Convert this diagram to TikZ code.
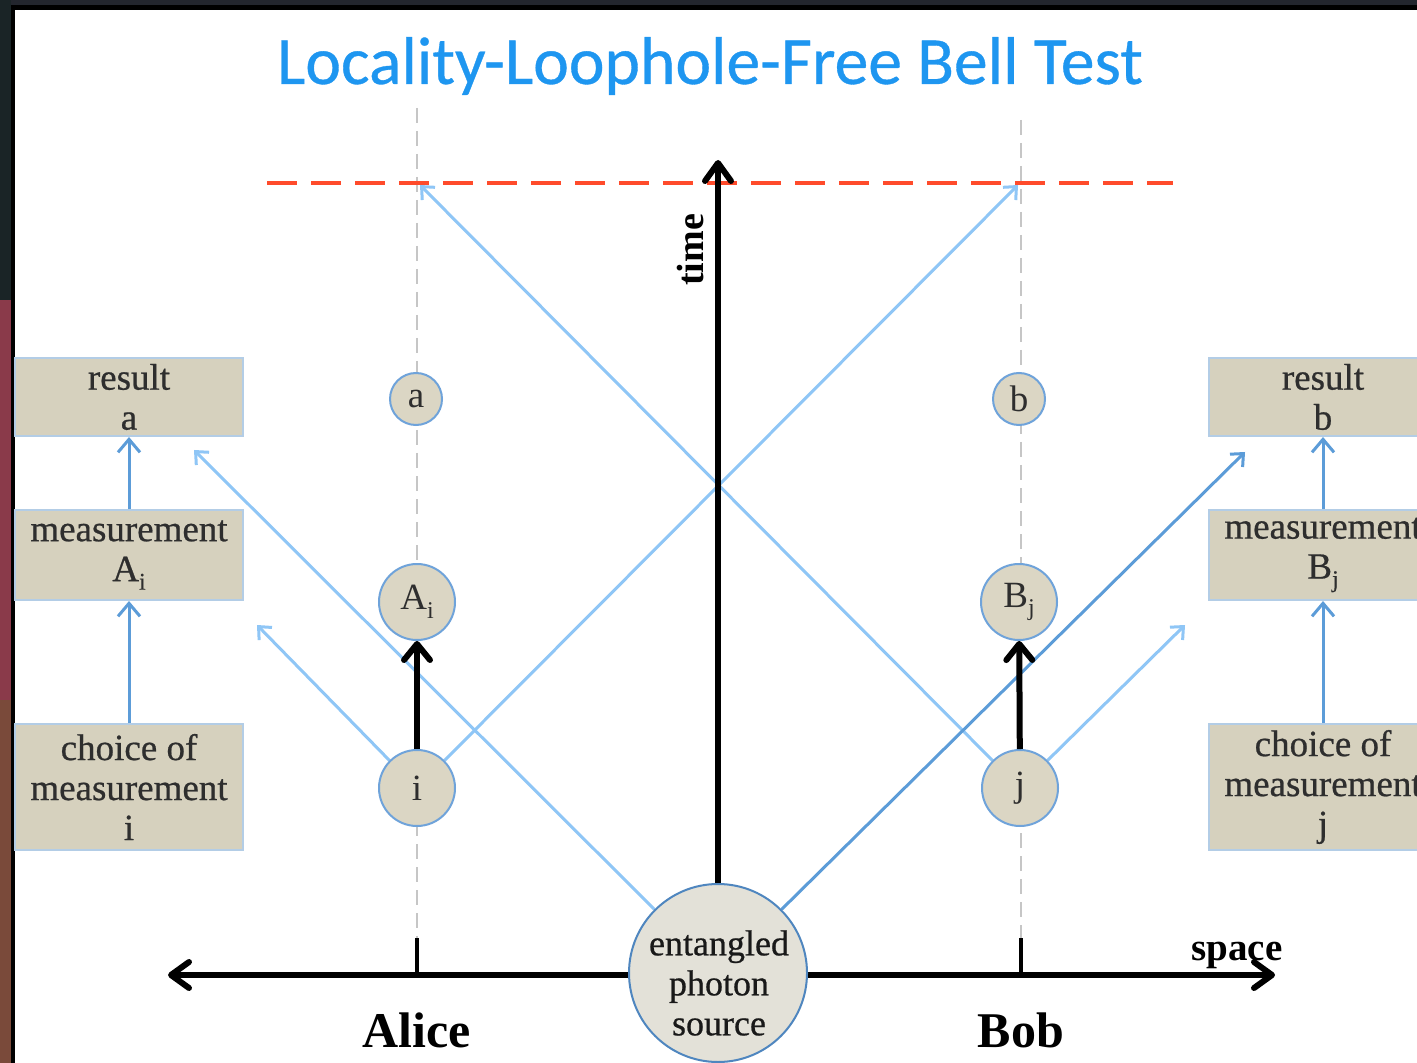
\documentclass[tikz,border=0pt]{standalone}
\usepackage{fontspec}
\setmainfont{Liberation Serif}
\newfontfamily\heavyserif{Liberation Serif}[FakeBold=0.6]
\newfontfamily\titlefont{Carlito}[FakeBold=0.5]
\usetikzlibrary{arrows.meta}
\definecolor{titleblue}{HTML}{1E96F0}
\definecolor{redline}{HTML}{FF4B2B}
\definecolor{lightline}{HTML}{8FC6F6}
\definecolor{midline}{HTML}{5C9CD8}
\definecolor{boxfill}{HTML}{D6D1BE}
\definecolor{boxborder}{HTML}{B3CDE6}
\definecolor{circfill}{HTML}{DBD6C4}
\definecolor{circborder}{HTML}{6FA3DA}
\definecolor{srcfill}{HTML}{E3E1D8}
\definecolor{srcborder}{HTML}{4F86BF}
\definecolor{graydash}{HTML}{C6C6C6}
\definecolor{boxtext}{HTML}{2E2E2E}
\definecolor{bgdark}{HTML}{23262E}
\definecolor{bgteal}{HTML}{1A2426}
\definecolor{bgred}{HTML}{8A3A4A}
\definecolor{bgbrown}{HTML}{7A4A3A}
\newcommand\lowsub[1]{\raisebox{-0.5ex}{\fontsize{12}{12}\selectfont #1}}
\pgfdeclarelayer{bglayer}
\pgfsetlayers{bglayer,main}
\tikzset{
  axtip/.tip={Straight Barb[length=9pt,width=13pt,round]},
  bltip/.tip={Straight Barb[length=8pt,width=13pt,round]},
  lntip/.tip={Straight Barb[length=5pt,width=9pt]},
  bxtip/.tip={Straight Barb[length=6.5pt,width=11pt]},
}
\begin{document}
\begin{tikzpicture}[x=0.5pt,y=-0.5pt,
  boxnode/.style={draw=boxborder, line width=1pt, fill=boxfill, minimum width=114pt,
    align=center, inner sep=0pt, text=boxtext, font=\heavyserif\fontsize{18.5}{20}\selectfont},
  circnode/.style={circle, draw=circborder, line width=1pt, fill=circfill, inner sep=0pt,
    text=boxtext, font=\fontsize{18.5}{20}\selectfont},
  srcnode/.style={circle, draw=srcborder, line width=1pt, fill=srcfill, inner sep=0pt,
    minimum size=89pt},
  srctext/.style={align=center, inner sep=0pt, text=black!90, font=\heavyserif\fontsize{18}{20}\selectfont},
  lline/.style={draw=lightline, line width=1.5pt, -lntip},
  mline/.style={draw=midline, line width=1.5pt, -lntip},
  barrow/.style={draw=midline, line width=1.5pt, -bxtip},
  blackarrow/.style={draw=black, line width=3pt, -bltip},
  axisline/.style={draw=black, line width=3pt},
  tickline/.style={draw=black, line width=2pt},
  gdash/.style={draw=graydash, line width=1.2pt, dash pattern=on 7.5pt off 4pt},
  reddash/.style={draw=redline, line width=2pt, dash pattern=on 15pt off 7pt},
]
\useasboundingbox (0,0) rectangle (1417,1063);
\clip (0,0) rectangle (1417,1063);

% coordinates
\coordinate (gA) at (417,108);
\coordinate (tA) at (417,938);
\coordinate (gB) at (1021,120);
\coordinate (tB) at (1021,938);
\coordinate (r1) at (267,183);
\coordinate (r2) at (1173,183);
\coordinate (xl) at (168,975);
\coordinate (xr) at (1275,975);
\coordinate (tt) at (718,160);
\coordinate (ta1) at (194,450);
\coordinate (tb1) at (1245,452);
\coordinate (ta2) at (257,625);
\coordinate (tb2) at (1185,625);
\coordinate (tc1) at (420,185);
\coordinate (tc2) at (1018,185);

% nodes
\node[boxnode, minimum height=39pt] (ra) at (129,397) {result\\a};
\node[boxnode, minimum height=45pt] (ma) at (129,555) {measurement\\A\lowsub{i}};
\node[boxnode, minimum height=63pt] (ca) at (129,787) {choice of\\measurement\\i};
\node[boxnode, minimum height=39pt] (rb) at (1323,397) {result\\b};
\node[boxnode, minimum height=45pt] (mb) at (1323,555) {measurement\\B\lowsub{j}};
\node[boxnode, minimum height=63pt] (cb) at (1323,787) {choice of\\measurement\\j};

\node[circnode, minimum size=26pt] (a) at (416,399) {a};
\node[circnode, minimum size=38pt] (Ai) at (417,602) {A\lowsub{i}};
\node[circnode, minimum size=38pt] (i) at (417,788) {i};
\node[circnode, minimum size=26pt] (b) at (1019,399) {b};
\node[circnode, minimum size=38pt] (Bj) at (1019,602) {B\lowsub{j}};
\node[circnode, minimum size=38pt] (j) at (1020,788) {j};

\node[srcnode] (src) at (718,973) {};
\node[srctext] (srct) at (719,983) {entangled\\photon\\source};

\begin{pgfonlayer}{bglayer}
% slide background
\fill[bgdark] (0,0) rectangle (1417,1063);
\fill[bgteal] (0,0) rectangle (11,300);
\fill[bgred] (0,300) rectangle (11,700);
\fill[bgbrown] (0,700) rectangle (11,1063);
\fill[black] (11,5) rectangle (1417,1063);
\fill[white] (15,10) rectangle (1417,1063);
% gray dashed world lines
\draw[gdash] (gA) -- (tA);
\draw[gdash] (gB) -- (tB);
% red dashed line
\draw[reddash] (r1) -- (r2);
% light-cone lines
\draw[lline] (i.45) -- (tc2);
\draw[lline] (j.135) -- (tc1);
\draw[lline] (i.135) -- (ta2);
\draw[lline] (j.45) -- (tb2);
\draw[lline] (src.135) -- (ta1);
\draw[mline] (src.45) -- (tb1);
% axes
\draw[axisline, axtip-axtip] (xl) -- (xr);
\draw[tickline] (tA) -- (tA |- xl);
\draw[tickline] (tB) -- (tB |- xl);
\draw[axisline, -axtip] (src.north) -- (tt);
\end{pgfonlayer}

% arrows between boxes
\draw[barrow] (ca) -- (ma);
\draw[barrow] (ma) -- (ra);
\draw[barrow] (cb) -- (mb);
\draw[barrow] (mb) -- (rb);

% black measurement arrows
\draw[blackarrow] (i) -- (Ai);
\draw[blackarrow] (j) -- (Bj);

% labels
\node[font=\titlefont\fontsize{33.8}{36}\selectfont, text=titleblue, anchor=base] (title) at (710,84) {Locality-Loophole-Free Bell Test};
\node[font=\bfseries\fontsize{25}{25}\selectfont, anchor=base] (alice) at (417,1047) {Alice};
\node[font=\bfseries\fontsize{25}{25}\selectfont, anchor=base] (bob) at (1021,1047) {Bob};
\node[font=\bfseries\fontsize{19.5}{20}\selectfont, anchor=base] (space) at (1237,960) {space};
\node[font=\bfseries\fontsize{19}{20}\selectfont, rotate=90] (time) at (690,250) {time};
\end{tikzpicture}
\end{document}
